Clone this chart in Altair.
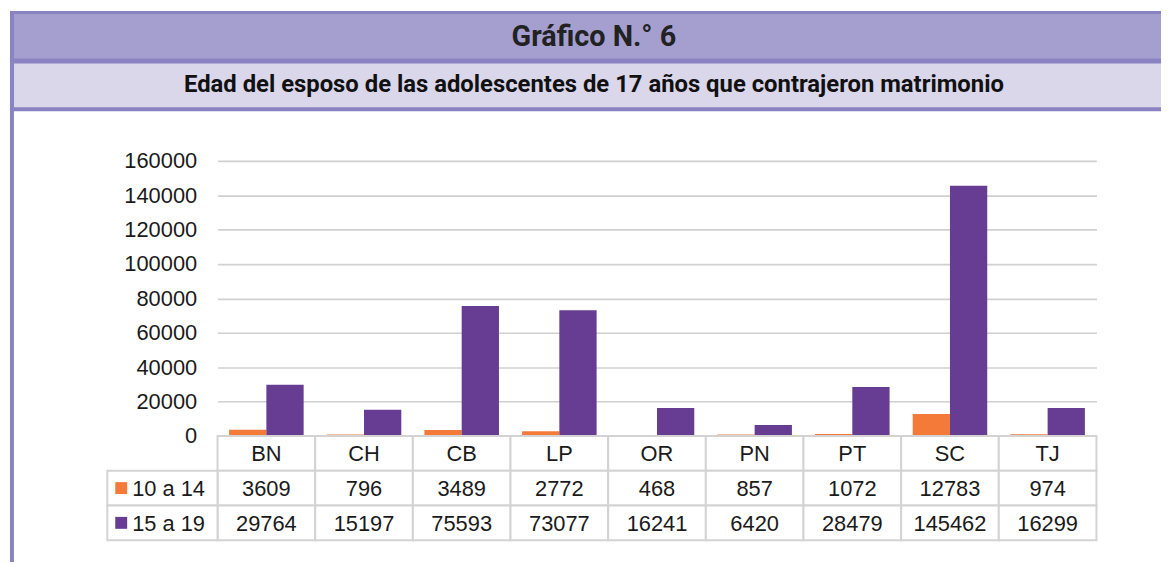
import altair as alt
import pandas as pd

# ---- data ----
categories = ["BN", "CH", "CB", "LP", "OR", "PN", "PT", "SC", "TJ"]
series = ["10 a 14", "15 a 19"]
vals_10_14 = [3609, 796, 3489, 2772, 468, 857, 1072, 12783, 974]
vals_15_19 = [29764, 15197, 75593, 73077, 16241, 6420, 28479, 145462, 16299]
y_ticks = [0, 20000, 40000, 60000, 80000, 100000, 120000, 140000, 160000]
title_text = "Gráfico N.° 6"
subtitle_text = "Edad del esposo de las adolescentes de 17 años que contrajeron matrimonio"

colors = ["#f47a3a", "#673c93"]
border_col = "#8a83c2"
band_col = "#a59fd0"
sub_col = "#dad7eb"
cell_col = "#d3d3d3"
txt_col = "#1a1a1a"

rows = []
for s, vals in zip(series, [vals_10_14, vals_15_19]):
    for c, v in zip(categories, vals):
        rows.append({"cat": c, "series": s, "value": v})
df = pd.DataFrame(rows)
cat_df = pd.DataFrame({"cat": categories})
lab_df = pd.DataFrame({"series": series})
one = pd.DataFrame({"a": [0]})

W, H = 885, 277
x_enc = alt.X("cat:N", sort=categories,
              scale=alt.Scale(domain=categories, paddingInner=0, paddingOuter=0),
              axis=None)

bars = alt.Chart(df).mark_bar().encode(
    x=x_enc,
    xOffset=alt.XOffset("series:N", sort=series,
                        scale=alt.Scale(domain=series, paddingInner=0, paddingOuter=0.31)),
    y=alt.Y("value:Q",
            scale=alt.Scale(domain=[0, 160000], nice=False),
            axis=alt.Axis(values=y_ticks, title=None, domain=False, ticks=False,
                          labelFont="Liberation Sans", labelFontSize=22,
                          labelColor=txt_col, labelPadding=21,
                          grid=True, gridColor="#d0d0d0", gridWidth=1.6,
                          format="d")),
    color=alt.Color("series:N", scale=alt.Scale(domain=series, range=colors), legend=None),
)

# ---- table ----
row_y = [277, 312, 347, 382]
cell_kw = dict(fill="white", stroke=cell_col, strokeWidth=2)

cat_cells = alt.Chart(cat_df).mark_rect(**cell_kw).encode(
    x=x_enc, y=alt.value(row_y[0]), y2=alt.value(row_y[1]))
cat_text = alt.Chart(cat_df).mark_text(font="Liberation Sans", fontSize=22, color=txt_col,
                                       baseline="middle").encode(
    x=x_enc, y=alt.value((row_y[0] + row_y[1]) / 2 + 1), text="cat:N")

layers = [bars, cat_cells, cat_text]
for i, s in enumerate(series):
    y0, y1 = row_y[i + 1], row_y[i + 2]
    sub = alt.Chart(df).transform_filter(alt.datum.series == s)
    layers.append(sub.mark_rect(**cell_kw).encode(x=x_enc, y=alt.value(y0), y2=alt.value(y1)))
    layers.append(sub.mark_text(font="Liberation Sans", fontSize=22, color=txt_col,
                                baseline="middle").encode(
        x=x_enc, y=alt.value((y0 + y1) / 2 + 1), text=alt.Text("value:Q", format="d")))
    lab = alt.Chart(lab_df).transform_filter(alt.datum.series == s)
    layers.append(lab.mark_rect(**cell_kw).encode(
        x=alt.value(-111), x2=alt.value(0), y=alt.value(y0), y2=alt.value(y1)))
    layers.append(lab.mark_rect(color=colors[i]).encode(
        x=alt.value(-103), x2=alt.value(-91),
        y=alt.value((y0 + y1) / 2 - 6), y2=alt.value((y0 + y1) / 2 + 6)))
    layers.append(lab.mark_text(font="Liberation Sans", fontSize=22, color=txt_col,
                                align="left", baseline="middle").encode(
        x=alt.value(-86), y=alt.value((y0 + y1) / 2 + 1), text="series:N"))

# ---- header frame ----
def rect(x0, x1, y0, y1, col):
    return alt.Chart(one).mark_rect(color=col).encode(
        x=alt.value(x0), x2=alt.value(x1), y=alt.value(y0), y2=alt.value(y1))

deco = [
    rect(-209, 950, -151, -50, border_col),
    rect(-205, 950, -148, -103, band_col),
    rect(-205, 950, -98, -54, sub_col),
    rect(-209, -205, -151, 404, border_col),
]
titles = alt.Chart(pd.DataFrame({"t": [title_text]})).mark_text(
    font="Roboto", fontSize=29, fontWeight="bold", color="#222222",
    align="center", baseline="middle").encode(
    x=alt.value(379), y=alt.value(-125), text="t:N")
subtitle = alt.Chart(pd.DataFrame({"t": [subtitle_text]})).mark_text(
    font="Roboto", fontSize=24, fontWeight="bold", color="#111111",
    align="center", baseline="middle").encode(
    x=alt.value(379), y=alt.value(-76), text="t:N")

chart = alt.layer(*deco, titles, subtitle, *layers).properties(
    width=W, height=H,
    padding={"left": 2, "top": 1, "right": 0, "bottom": 0},
).configure_view(stroke=None)

chart.save("out.html", embed_options={"renderer": "svg", "actions": False})
